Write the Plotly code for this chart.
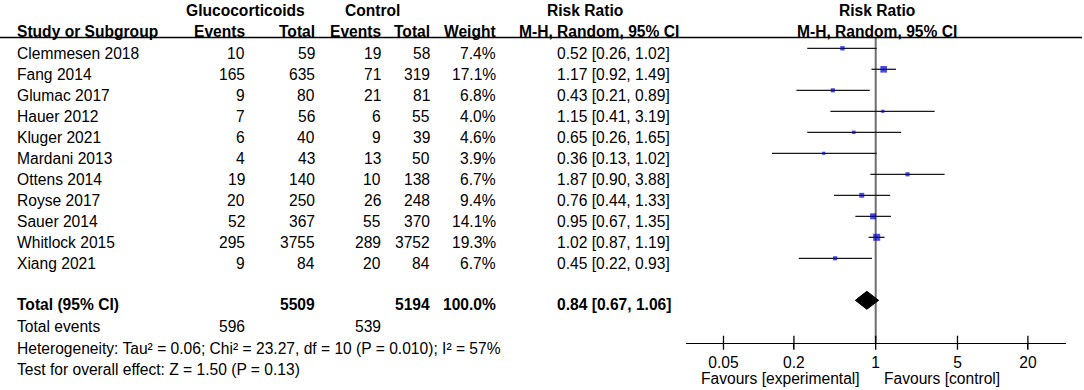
import plotly.graph_objects as go
import numpy as np

# ---------------- data ----------------
studies = ["Clemmesen 2018", "Fang 2014", "Glumac 2017", "Hauer 2012", "Kluger 2021",
           "Mardani 2013", "Ottens 2014", "Royse 2017", "Sauer 2014", "Whitlock 2015", "Xiang 2021"]
exp_events = [10, 165, 9, 7, 6, 4, 19, 20, 52, 295, 9]
exp_total = [59, 635, 80, 56, 40, 43, 140, 250, 367, 3755, 84]
ctl_events = [19, 71, 21, 6, 9, 13, 10, 26, 55, 289, 20]
ctl_total = [58, 319, 81, 55, 39, 50, 138, 248, 370, 3752, 84]
weights = [7.4, 17.1, 6.8, 4.0, 4.6, 3.9, 6.7, 9.4, 14.1, 19.3, 6.7]
rr = [0.52, 1.17, 0.43, 1.15, 0.65, 0.36, 1.87, 0.76, 0.95, 1.02, 0.45]
ci_low = [0.26, 0.92, 0.21, 0.41, 0.26, 0.13, 0.90, 0.44, 0.67, 0.87, 0.22]
ci_high = [1.02, 1.49, 0.89, 3.19, 1.65, 1.02, 3.88, 1.33, 1.35, 1.19, 0.93]

total_exp_n = 5509
total_ctl_n = 5194
total_weight = 100.0
total_exp_events = 596
total_ctl_events = 539
pooled_rr = 0.84
pooled_low = 0.67
pooled_high = 1.06

heterogeneity = "Heterogeneity: Tau² = 0.06; Chi² = 23.27, df = 10 (P = 0.010); I² = 57%"
overall_test = "Test for overall effect: Z = 1.50 (P = 0.13)"

tick_vals = [0.05, 0.2, 1, 5, 20]
tick_text = ["0.05", "0.2", "1", "5", "20"]
favours_left = "Favours [experimental]"
favours_right = "Favours [control]"

# ---------------- layout geometry ----------------
W, H = 1084, 390
FONT = "Liberation Sans, Arial, sans-serif"
FS = 15.6
ROW0 = 48.3      # y of first study row (marks)
ROWH = 21.0      # row spacing
TXT_OFF = 5.0    # text centre offset below marks
AXIS_Y = 342.7
HEADER_LINE_Y = 37.4

def row_y(i):
    return ROW0 + ROWH * i

def px(x):
    return x / W

fig = go.Figure()

# reference line at RR = 1
fig.add_trace(go.Scatter(x=[1, 1], y=[HEADER_LINE_Y, AXIS_Y], mode="lines",
                         line=dict(color="#6e6e6e", width=2), hoverinfo="skip"))

# CI lines
for i in range(len(studies)):
    fig.add_trace(go.Scatter(x=[ci_low[i], ci_high[i]], y=[row_y(i), row_y(i)], mode="lines",
                             line=dict(color="#1a1a1a", width=1.3), hoverinfo="skip"))

# point estimates (area ~ weight)
fig.add_trace(go.Scatter(x=rr, y=[row_y(i) for i in range(len(studies))], mode="markers",
                         marker=dict(symbol="square", color="#0000CC",
                                     size=[1.6 * np.sqrt(w) for w in weights],
                                     line=dict(width=0)), hoverinfo="skip"))

# pooled diamond
yt = row_y(12)
fig.add_trace(go.Scatter(x=[pooled_low, pooled_rr, pooled_high, pooled_rr, pooled_low],
                         y=[yt, yt - 9, yt, yt + 9, yt], mode="lines", fill="toself",
                         fillcolor="black", line=dict(color="black", width=1), hoverinfo="skip"))

# upper halves of axis ticks
fig.add_trace(go.Scatter(x=tick_vals, y=[AXIS_Y] * len(tick_vals), mode="markers",
                         marker=dict(symbol="line-ns", size=10, line=dict(color="black", width=1.3)),
                         hoverinfo="skip"))

ann = []
def text(x, y, s, anchor="left", bold=False):
    ann.append(dict(x=px(x), y=y, xref="paper", yref="y", text=(f"<b>{s}</b>" if bold else s),
                    showarrow=False, xanchor=anchor, yanchor="middle", borderpad=0, borderwidth=0,
                    font=dict(family=FONT, size=FS, color="black")))

# headers
H1 = 10.3
text(245.5, H1, "Glucocorticoids", "center", True)
text(372.8, H1, "Control", "center", True)
text(585, H1, "Risk Ratio", "center", True)
text(877, H1, "Risk Ratio", "center", True)
H2 = 31.0
text(16.5, H2, "Study or Subgroup", "left", True)
text(244.5, H2, "Events", "right", True)
text(315, H2, "Total", "right", True)
text(380.5, H2, "Events", "right", True)
text(430.4, H2, "Total", "right", True)
text(495.9, H2, "Weight", "right", True)
text(679, H2, "M-H, Random, 95% CI", "right", True)
text(877, H2, "M-H, Random, 95% CI", "center", True)

# study rows
for i, s in enumerate(studies):
    y = row_y(i) + TXT_OFF
    text(16.5, y, s)
    text(244.5, y, str(exp_events[i]), "right")
    text(315, y, str(exp_total[i]), "right")
    text(380.5, y, str(ctl_events[i]), "right")
    text(430.4, y, str(ctl_total[i]), "right")
    text(495.9, y, f"{weights[i]:.1f}%", "right")
    text(557.3, y, f"{rr[i]:.2f} [{ci_low[i]:.2f}, {ci_high[i]:.2f}]")

# totals
y = row_y(12) + 3.8
text(16.5, y, "Total (95% CI)", "left", True)
text(315, y, str(total_exp_n), "right", True)
text(430.4, y, str(total_ctl_n), "right", True)
text(495.9, y, f"{total_weight:.1f}%", "right", True)
text(557.3, y, f"{pooled_rr:.2f} [{pooled_low:.2f}, {pooled_high:.2f}]", "left", True)
y = row_y(13) + 5.0
text(16.5, y, "Total events")
text(244.5, y, str(total_exp_events), "right")
text(380.5, y, str(total_ctl_events), "right")
text(16.5, row_y(14) + 5.8, heterogeneity)
text(16.5, row_y(15) + 6.0, overall_test)

# favours labels
text(860, 378, favours_left, "right")
text(883.5, 378, favours_right, "left")

fig.update_layout(
    width=W, height=H,
    margin=dict(l=0, r=0, t=0, b=0),
    paper_bgcolor="white", plot_bgcolor="rgba(0,0,0,0)",
    showlegend=False,
    annotations=ann,
    shapes=[dict(type="line", xref="paper", yref="y", x0=0, x1=px(1082),
                 y0=HEADER_LINE_Y, y1=HEADER_LINE_Y, line=dict(color="black", width=1.5))],
    xaxis=dict(type="log", domain=[px(685.7), px(1065.7)], range=[-1.624, 1.624],
               anchor="free", position=1 - AXIS_Y / H,
               showline=True, linecolor="black", linewidth=1.3,
               ticks="outside", ticklen=5, tickwidth=1.3, tickcolor="black",
               tickvals=tick_vals, ticktext=tick_text,
               tickfont=dict(family=FONT, size=FS, color="black"),
               showgrid=False, zeroline=False, fixedrange=True),
    yaxis=dict(range=[H, 0], domain=[0, 1], visible=False, showgrid=False,
               zeroline=False, fixedrange=True),
)

fig.write_html("out.html", config={"displayModeBar": False},
               post_script="document.body.style.margin='0';document.body.style.padding='0';")
